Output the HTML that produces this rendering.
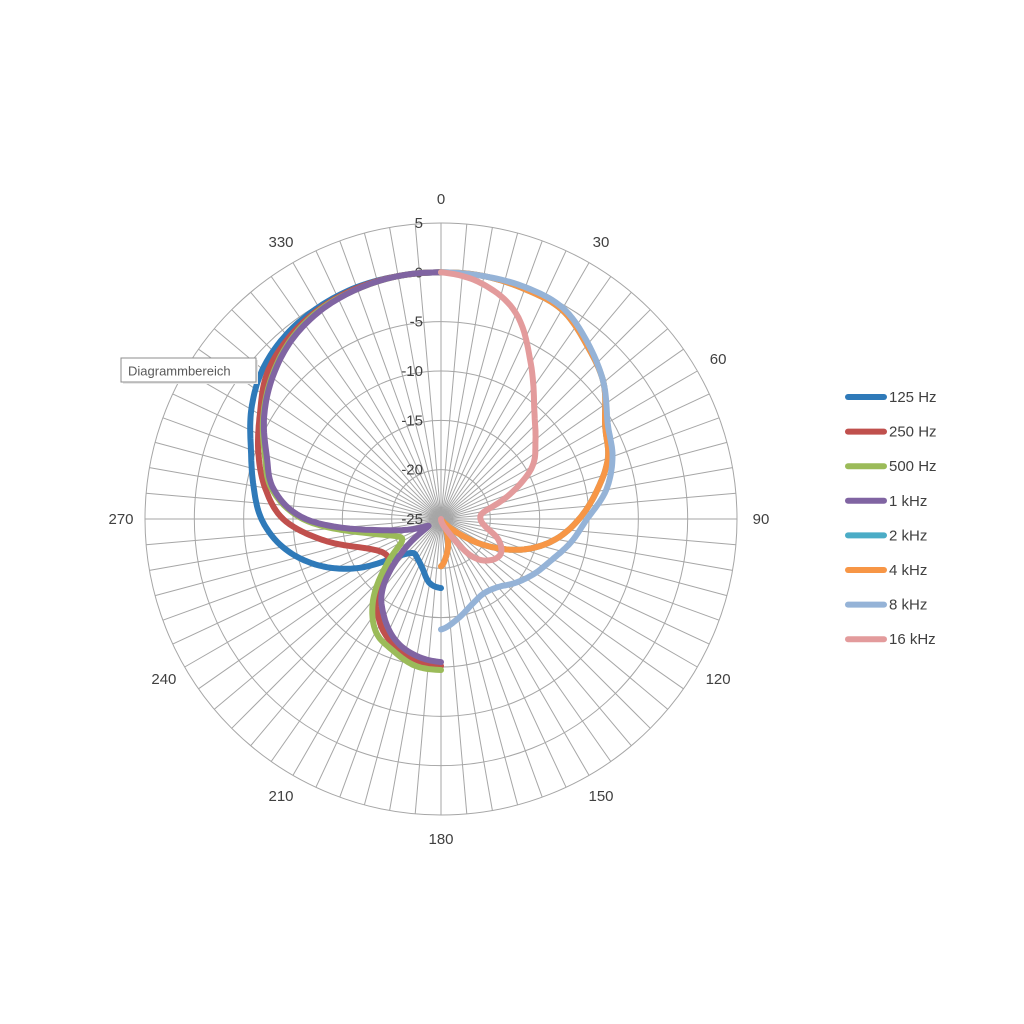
<!DOCTYPE html>
<html><head><meta charset="utf-8"><style>
html,body{margin:0;padding:0;background:#fff;}
svg{display:block;font-family:"Liberation Sans",sans-serif;}
</style></head><body>
<svg id="chart" width="1024" height="1024" viewBox="0 0 1024 1024">
<rect x="0" y="0" width="1024" height="1024" fill="#fff"/>
<g id="grid"></g>
<g id="labels"></g>
<g id="series"></g>
<g id="legend"></g>
<g>
<rect x="123" y="360" width="135" height="24" fill="#e8e8e8"/>
<rect x="121" y="358" width="135" height="24" fill="#fff" stroke="#8c8c8c" stroke-width="1"/>
<text x="128" y="375.5" font-size="13" fill="#595959">Diagrammbereich</text>
</g>
</svg>
<script>
const names = ["125 Hz","250 Hz","500 Hz","1 kHz","2 kHz","4 kHz","8 kHz","16 kHz"];
const colors = ["#2f7ab9","#c0504d","#9bbb59","#8064a2","#4bacc6","#f79646","#95b3d7","#e39b9c"];
const leftAngles = [180,190,200,210,220,230,240,250,260,270,280,290,300,310,320,330,340,350,360];
const rightAngles = [0,10,20,30,40,50,60,70,80,90,100,110,120,130,140,150,160,170,180];
const s125 = [-18,-18.4,-19.6,-20.3,-20.5,-19,-15,-11.5,-8.7,-6.8,-5.7,-4.5,-2.8,-1.4,-0.6,-0.2,0,0,0];
const s250 = [-10.1,-10.5,-11.3,-12.7,-15,-18,-18.2,-16.5,-12.8,-9,-6.9,-5.3,-3.8,-2,-1,-0.4,-0.1,0,0];
const s500 = [-9.7,-9.9,-10.8,-11.8,-14.3,-17.8,-20.4,-20,-17,-11,-7.6,-6,-4.2,-2.6,-1.3,-0.5,-0.2,0,0];
const s1k  = [-10.5,-10.9,-11.8,-13.5,-15.8,-20,-23.5,-22,-18.5,-11.3,-7.8,-6.2,-4.3,-2.7,-1.4,-0.6,-0.2,0,0];
const s2k  = [0,0,-0.2,-0.5,-2,-3.5,-5.8,-7,-9,-11,-13.2,-16,-19.5,-22.8,-24.5,-24.5,-23,-21.5,-20.2];
const s4k  = [0,0,-0.2,-0.5,-2,-3.5,-5.8,-7,-9,-11,-13.2,-16,-19.5,-22.8,-24.5,-24.5,-23,-21.5,-20.2];
const s8k  = [0,0,0,-0.3,-1.8,-3.5,-5.5,-6.5,-8,-10.2,-11.6,-13,-14,-15,-16,-16.3,-15.8,-14.8,-13.8];
const s16k = [0,-0.8,-2.8,-6.8,-10.3,-12.5,-14.3,-17.5,-20.5,-21,-20.4,-18.8,-18,-18.5,-20,-23.3,-24.3,-24.7,-25];
const seriesValues = [s125,s250,s500,s1k,s2k,s4k,s8k,s16k];
const seriesAngles = [leftAngles,leftAngles,leftAngles,leftAngles,rightAngles,rightAngles,rightAngles,rightAngles];
const radialTicks = [5,0,-5,-10,-15,-20,-25];
const angleTicks = [0,30,60,90,120,150,180,210,240,270,330];

const NS="http://www.w3.org/2000/svg";
const cx=441, cy=519, rMax=296, vMin=-25, vMax=5;
function rScale(v){return Math.max(0,(v-vMin)/(vMax-vMin)*rMax);}
function pt(a,v){const t=a*Math.PI/180, r=rScale(v);return [cx+r*Math.sin(t), cy-r*Math.cos(t)];}
function mk(tag,attrs,parent){const e=document.createElementNS(NS,tag);for(const k in attrs)e.setAttribute(k,attrs[k]);parent.appendChild(e);return e;}

const grid=document.getElementById('grid');
for(let a=0;a<360;a+=5){
  const p=pt(a,vMax);
  const l=mk('line',{x1:cx,y1:cy,x2:p[0].toFixed(1),y2:p[1].toFixed(1),stroke:'#a6a6a6','stroke-width':1},grid);
  
  
}
radialTicks.forEach(v=>{
  if(v===vMin)return;
  const c=mk('circle',{cx:cx,cy:cy,r:rScale(v),fill:'none',stroke:'#a6a6a6','stroke-width':1},grid);
  
  
});
const labels=document.getElementById('labels');
radialTicks.forEach(v=>{
  const t=mk('text',{x:423,y:(cy-rScale(v)+5).toFixed(1),'text-anchor':'end','font-size':15,fill:'#404040'},labels);
  t.textContent=String(v);
  
  
});
angleTicks.forEach(a=>{
  const rad=a*Math.PI/180, R=320;
  const x=cx+R*Math.sin(rad), y=cy-R*Math.cos(rad)+5;
  const t=mk('text',{x:x.toFixed(1),y:y.toFixed(1),'text-anchor':'middle','font-size':15,fill:'#404040'},labels);
  t.textContent=String(a);
  
  
});

function interp(angles,vals){
  const out=[];
  for(let i=0;i<vals.length-1;i++){
    const v0=vals[i-1]!==undefined?vals[i-1]:vals[i], v1=vals[i], v2=vals[i+1], v3=vals[i+2]!==undefined?vals[i+2]:v2;
    const a1=angles[i], a2=angles[i+1];
    const n=10;
    for(let k=0;k<n;k++){
      const t=k/n, t2=t*t, t3=t2*t;
      const v=0.5*((2*v1)+(-v0+v2)*t+(2*v0-5*v1+4*v2-v3)*t2+(-v0+3*v1-3*v2+v3)*t3);
      out.push(pt(a1+(a2-a1)*t,v));
    }
  }
  out.push(pt(angles[angles.length-1],vals[vals.length-1]));
  return out;
}
const sg=document.getElementById('series');
seriesValues.forEach((vals,i)=>{
  const ps=interp(seriesAngles[i],vals);
  const d='M'+ps.map(p=>p[0].toFixed(1)+','+p[1].toFixed(1)).join(' L');
  const p=mk('path',{d:d,fill:'none',stroke:colors[i],'stroke-width':6,'stroke-linecap':'round','stroke-linejoin':'round'},sg);
  
  
});
const lg=document.getElementById('legend');
names.forEach((n,i)=>{
  const y=397+i*34.6;
  const g=mk('g',{},lg);
  
  
  mk('line',{x1:848,y1:y,x2:884,y2:y,stroke:colors[i],'stroke-width':6,'stroke-linecap':'round'},g);
  const t=mk('text',{x:889,y:y+5,'font-size':15,fill:'#404040'},g);
  t.textContent=n;
});
</script>
</body></html>
